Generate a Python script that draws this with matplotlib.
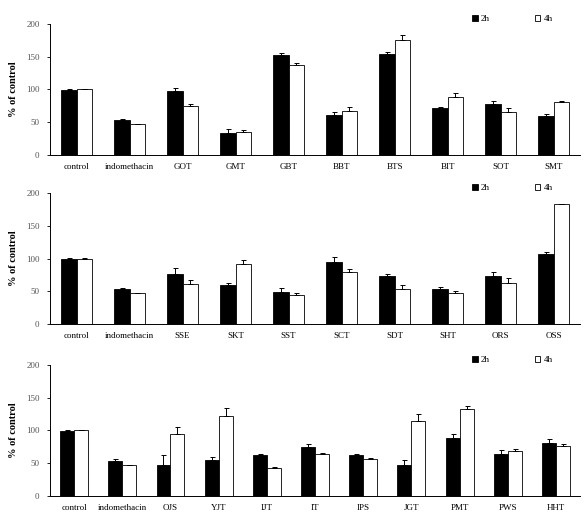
import numpy as np
import matplotlib
matplotlib.use('Agg')
import matplotlib.pyplot as plt
from matplotlib.patches import Patch

plt.rcParams['font.family'] = ['Liberation Serif', 'DejaVu Serif']

labels1 = ['control', 'indomethacin', 'GOT', 'GMT', 'GBT', 'BBT', 'BTS', 'BIT', 'SOT', 'SMT']
h2_1 = [99, 54, 97, 33, 153, 61, 154, 71, 78, 59]
h2_1e = [2, 1, 5, 6, 2, 5, 3, 3, 4, 4]
h4_1 = [100, 47, 75, 35, 138, 67, 175, 89, 66, 81]
h4_1e = [1, 1, 3, 3, 2, 6, 8, 5, 5, 1]

labels2 = ['control', 'indomethacin', 'SSE', 'SKT', 'SST', 'SCT', 'SDT', 'SHT', 'ORS', 'OSS']
h2_2 = [99, 54, 77, 60, 49, 95, 73, 54, 73, 107]
h2_2e = [2, 1, 8, 3, 6, 7, 4, 3, 6, 3]
h4_2 = [100, 47, 61, 92, 44, 80, 54, 47, 62, 183]
h4_2e = [1, 1, 6, 5, 4, 4, 5, 3, 8, 0.5]

labels3 = ['control', 'indomethacin', 'OJS', 'YJT', 'IJT', 'IT', 'IPS', 'JGT', 'PMT', 'PWS', 'HHT']
h2_3 = [99, 54, 48, 55, 63, 75, 63, 48, 88, 64, 81]
h2_3e = [2, 2, 15, 4, 1, 5, 1, 7, 7, 6, 6]
h4_3 = [100, 47, 94, 122, 42, 64, 57, 114, 132, 69, 77]
h4_3e = [1, 1, 12, 12, 2, 2, 1, 11, 5, 3, 2]

panels = [
    (labels1, h2_1, h2_1e, h4_1, h4_1e, 0.6996),
    (labels2, h2_2, h2_2e, h4_2, h4_2e, 0.372),
    (labels3, h2_3, h2_3e, h4_3, h4_3e, 0.0388),
]

fig = plt.figure(figsize=(5.85, 5.16), dpi=100)
w = 0.29
for labels, a, ae, b, be, bottom in panels:
    ax = fig.add_axes([0.0855, bottom, 0.906, 0.254])
    x = np.arange(len(labels))
    ekw = dict(elinewidth=0.7, capthick=0.7, ecolor='black')
    ax.bar(x - w / 2, a, w, color='black', edgecolor='black', linewidth=0.6,
           yerr=[np.zeros(len(a)), ae], capsize=1.8, error_kw=ekw)
    ax.bar(x + w / 2, b, w, color='white', edgecolor='black', linewidth=0.6,
           yerr=[np.zeros(len(b)), be], capsize=1.8, error_kw=ekw)
    ax.set_xlim(-0.5, len(labels) - 0.5)
    ax.set_ylim(0, 200)
    ax.set_yticks([0, 50, 100, 150, 200])
    ax.set_xticks(x)
    ax.set_xticklabels(labels, fontsize=6.5)
    ax.tick_params(axis='x', length=0, pad=6)
    ax.tick_params(axis='y', labelsize=6.5, labelcolor='#555555', length=2.5, width=0.6, pad=5)
    for s in ['top', 'right']:
        ax.spines[s].set_visible(False)
    ax.spines['left'].set_linewidth(0.7)
    ax.spines['bottom'].set_linewidth(0.7)
    ax.set_ylabel('% of control', fontsize=7.5, fontweight='bold', labelpad=6)
    handles = [Patch(facecolor='black', edgecolor='black', linewidth=0.6),
               Patch(facecolor='white', edgecolor='black', linewidth=0.6)]
    ax.legend(handles, ['2h', '4h'], loc='center left', bbox_to_anchor=(0.79, 1.035),
              ncol=2, frameon=False, fontsize=6.5, handlelength=0.6, handleheight=0.6,
              handletextpad=0.35, columnspacing=5.0, borderaxespad=0)

fig.savefig('out.png', dpi=100)
